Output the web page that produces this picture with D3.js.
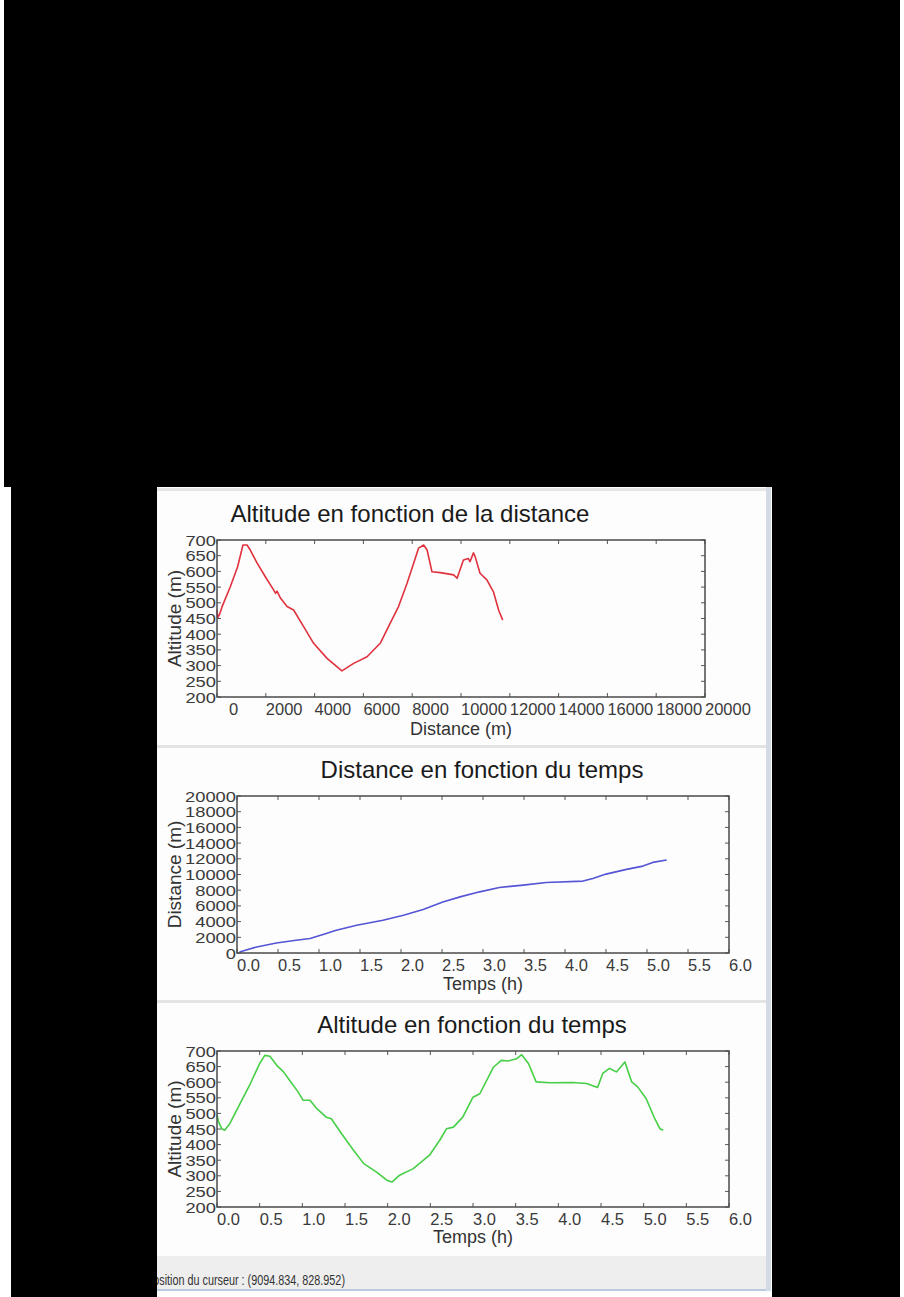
<!DOCTYPE html>
<html>
<head>
<meta charset="utf-8">
<script src="https://cdn.jsdelivr.net/npm/d3@7"></script>
<style>
  body { margin: 0; background: #fff; }
  text { font-family: "Liberation Sans", Arial, sans-serif; }
</style>
</head>
<body>
<div id="plot"></div>
<script>
//Size;
const w = 904;
const h = 1297;

//Data: altitude vs distance;
const distM = [0, 30, 100, 205, 545, 845, 1065, 1230, 1365, 1640, 1980, 2320, 2400, 2460, 2600, 2870, 3140, 3550, 3960, 4510, 5120, 5600, 6150, 6690, 7100, 7440, 7790, 8060, 8260, 8470, 8610, 8810, 9150, 9700, 9840, 10100, 10300, 10370, 10510, 10580, 10780, 11060, 11330, 11540, 11710];
const altByDist = [478, 452, 462, 487, 551, 615, 684, 684, 668, 627, 583, 541, 530, 537, 515, 488, 477, 424, 371, 323, 283, 307, 328, 371, 435, 488, 562, 626, 674, 684, 668, 599, 596, 589, 578, 636, 641, 631, 659, 647, 594, 573, 535, 477, 445];

//Data: distance vs time;
const timeDist = [0.03, 0.24, 0.48, 0.72, 0.89, 1.05, 1.21, 1.46, 1.78, 2.03, 2.27, 2.51, 2.72, 2.96, 3.2, 3.49, 3.77, 4.22, 4.34, 4.5, 4.75, 4.95, 5.07, 5.24];
const distByTime = [130, 770, 1280, 1620, 1840, 2350, 2900, 3540, 4180, 4820, 5540, 6510, 7150, 7790, 8350, 8650, 8990, 9160, 9500, 10050, 10650, 11070, 11540, 11840];

//Data: altitude vs time;
const timeAlt = [0, 0.02, 0.055, 0.09, 0.15, 0.27, 0.39, 0.5, 0.56, 0.62, 0.7, 0.78, 0.85, 0.95, 1.01, 1.09, 1.17, 1.28, 1.34, 1.46, 1.6, 1.72, 1.87, 1.99, 2.05, 2.14, 2.3, 2.49, 2.61, 2.69, 2.77, 2.88, 3.0, 3.08, 3.24, 3.33, 3.41, 3.51, 3.57, 3.65, 3.74, 3.9, 4.17, 4.33, 4.46, 4.52, 4.6, 4.68, 4.78, 4.86, 4.93, 5.03, 5.13, 5.19, 5.23];
const altByTime = [494, 472, 451, 446, 467, 531, 595, 660, 686, 683, 654, 633, 606, 569, 542, 542, 515, 488, 483, 435, 382, 339, 312, 286, 280, 302, 323, 366, 414, 451, 456, 488, 552, 563, 648, 670, 668, 675, 688, 660, 601, 598, 599, 596, 583, 628, 644, 633, 665, 601, 585, 547, 483, 451, 446];

//Tick values;
const altTicks = [200, 250, 300, 350, 400, 450, 500, 550, 600, 650, 700];
const distTicks = [0, 2000, 4000, 6000, 8000, 10000, 12000, 14000, 16000, 18000, 20000];
const timeTicks = [0.0, 0.5, 1.0, 1.5, 2.0, 2.5, 3.0, 3.5, 4.0, 4.5, 5.0, 5.5, 6.0];

//Texts;
const titles = ["Altitude en fonction de la distance", "Distance en fonction du temps", "Altitude en fonction du temps"];
const statusText = "Position du curseur : (9094.834, 828.952)";

//Initialize SVG;
const svg = d3.select("#plot")
  .append("svg")
    .attr("width", w)
    .attr("height", h);

//Window panel;
svg.append("rect").attr("x", 157).attr("y", 487).attr("width", 612).attr("height", 806).attr("fill", "#fdfdfd");
svg.append("rect").attr("x", 157).attr("y", 488).attr("width", 612).attr("height", 3).attr("fill", "#e6e6e6");
svg.append("rect").attr("x", 157).attr("y", 745).attr("width", 610).attr("height", 3).attr("fill", "#e4e4e4");
svg.append("rect").attr("x", 157).attr("y", 1000).attr("width", 610).attr("height", 3).attr("fill", "#e4e4e4");
svg.append("rect").attr("x", 157).attr("y", 1256).attr("width", 610).attr("height", 34).attr("fill", "#eeeeee");
svg.append("rect").attr("x", 157).attr("y", 1289).attr("width", 614).attr("height", 2).attr("fill", "#b9cbe0");
svg.append("rect").attr("x", 766).attr("y", 487).attr("width", 5).attr("height", 804).attr("fill", "#d4dbe4");

//Status text;
svg.append("text")
  .attr("x", 146).attr("y", 1285)
  .attr("font-size", 14).attr("fill", "#333")
  .attr("textLength", 199).attr("lengthAdjust", "spacingAndGlyphs")
  .text(statusText);

//Chart configs;
const charts = [
  {title: titles[0], titleX: 410, titleY: 522, x0: 217, x1: 705, y0: 540, y1: 697,
   xs: distM, ys: altByDist, xDomain: [0, 20000], yDomain: [200, 700],
   xTicks: distTicks, yTicks: altTicks, xFmt: d3.format("d"), yFmt: d3.format("d"),
   firstShift: 12, xLabel: "Distance (m)", xLabelY: 735, yLabel: "Altitude (m)", color: "#e0323e"},
  {title: titles[1], titleX: 482, titleY: 778, x0: 237, x1: 729, y0: 796, y1: 953,
   xs: timeDist, ys: distByTime, xDomain: [0, 6], yDomain: [0, 20000],
   xTicks: timeTicks, yTicks: distTicks, xFmt: d3.format(".1f"), yFmt: d3.format("d"),
   firstShift: 0, xLabel: "Temps (h)", xLabelY: 990, yLabel: "Distance (m)", color: "#5454d6"},
  {title: titles[2], titleX: 472, titleY: 1033, x0: 217, x1: 729, y0: 1051, y1: 1207,
   xs: timeAlt, ys: altByTime, xDomain: [0, 6], yDomain: [200, 700],
   xTicks: timeTicks, yTicks: altTicks, xFmt: d3.format(".1f"), yFmt: d3.format("d"),
   firstShift: 0, xLabel: "Temps (h)", xLabelY: 1243, yLabel: "Altitude (m)", color: "#46cf46"}
];

charts.forEach(function(c){
  const x = d3.scaleLinear().domain(c.xDomain).range([c.x0, c.x1]);
  const y = d3.scaleLinear().domain(c.yDomain).range([c.y1, c.y0]);

  //Title;
  svg.append("text")
    .attr("x", c.titleX).attr("y", c.titleY)
    .attr("text-anchor", "middle")
    .attr("font-size", 24).attr("fill", "#1a1a1a")
    .text(c.title);

  //Inward ticks on all sides;
  const g = svg.append("g");
  const tickCol = "#555";
  c.xTicks.forEach(function(t){
    g.append("line").attr("x1", x(t)).attr("x2", x(t)).attr("y1", c.y1).attr("y2", c.y1 - 4).attr("stroke", tickCol);
    g.append("line").attr("x1", x(t)).attr("x2", x(t)).attr("y1", c.y0).attr("y2", c.y0 + 4).attr("stroke", tickCol);
  });
  c.yTicks.forEach(function(t){
    g.append("line").attr("x1", c.x0).attr("x2", c.x0 + 4).attr("y1", y(t)).attr("y2", y(t)).attr("stroke", tickCol);
    g.append("line").attr("x1", c.x1).attr("x2", c.x1 - 4).attr("y1", y(t)).attr("y2", y(t)).attr("stroke", tickCol);
  });

  //Line;
  const pts = c.xs.map(function(v, i){ return [v, c.ys[i]]; });
  const line = d3.line()
    .x(function(d){ return x(d[0]); })
    .y(function(d){ return y(d[1]); });
  svg.append("path")
    .datum(pts)
    .attr("d", line)
    .attr("fill", "none")
    .attr("stroke", c.color)
    .attr("stroke-width", 1.6)
    .attr("stroke-linejoin", "round");

  //Box;
  svg.append("rect")
    .attr("x", c.x0).attr("y", c.y0)
    .attr("width", c.x1 - c.x0).attr("height", c.y1 - c.y0)
    .attr("fill", "none").attr("stroke", "#4a4a4a").attr("stroke-width", 1.5);

  //X tick labels;
  svg.append("g").selectAll("text")
    .data(c.xTicks)
    .enter()
    .append("text")
      .attr("x", function(d, i){ return x(d) + (i === 0 ? c.firstShift : 0); })
      .attr("y", c.y1 + 18)
      .attr("font-size", 16.5).attr("fill", "#3a3a3a")
      .text(c.xFmt);

  //Y tick labels (wide, tightly stacked);
  svg.append("g").selectAll("text")
    .data(c.yTicks)
    .enter()
    .append("text")
      .attr("x", c.x0 - 1)
      .attr("y", function(d){ return y(d) + 5.5; })
      .attr("text-anchor", "end")
      .attr("font-size", 15.5).attr("fill", "#3a3a3a")
      .attr("textLength", function(d){ return c.yFmt(d).length * 10.2; })
      .attr("lengthAdjust", "spacingAndGlyphs")
      .text(c.yFmt);

  //Axis labels;
  svg.append("text")
    .attr("x", (c.x0 + c.x1) / 2).attr("y", c.xLabelY)
    .attr("text-anchor", "middle")
    .attr("font-size", 18).attr("fill", "#333")
    .text(c.xLabel);

  svg.append("text")
    .attr("transform", "translate(181," + ((c.y0 + c.y1) / 2) + ") rotate(-90)")
    .attr("text-anchor", "middle")
    .attr("font-size", 19).attr("fill", "#333")
    .text(c.yLabel);
});

//Black masks;
svg.append("rect").attr("x", 4).attr("y", 0).attr("width", 896).attr("height", 487).attr("fill", "#000");
svg.append("rect").attr("x", 11).attr("y", 487).attr("width", 146).attr("height", 810).attr("fill", "#000");
svg.append("rect").attr("x", 772).attr("y", 487).attr("width", 128).attr("height", 810).attr("fill", "#000");
</script>
</body>
</html>
